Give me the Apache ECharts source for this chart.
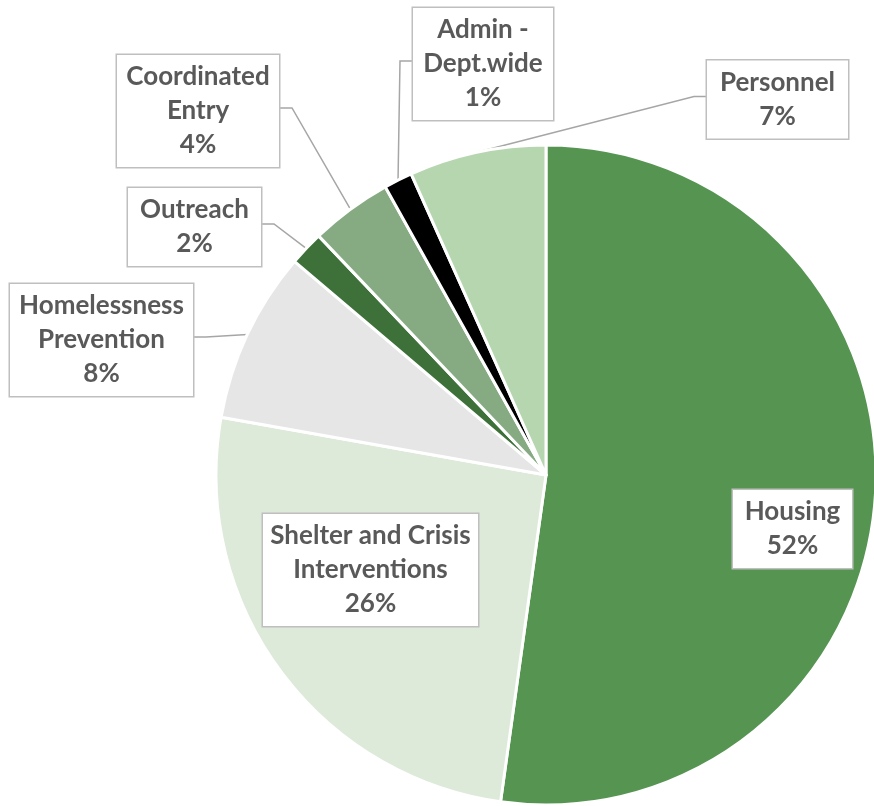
<!DOCTYPE html>
<html>
<head>
<meta charset="utf-8">
<script src="https://cdn.jsdelivr.net/npm/echarts@6/dist/echarts.min.js"></script>
<style>
html, body { margin: 0; padding: 0; background: #fff; }
#main { width: 874px; height: 806px; }
</style>
</head>
<body>
<div id="main"></div>
<script>
// budget share by program area (percent), clockwise from 12 o'clock
var categories = ['Housing', 'Shelter and Crisis\nInterventions', 'Homelessness\nPrevention', 'Outreach', 'Coordinated\nEntry', 'Admin -\nDept.wide', 'Personnel']
var values = [52.2, 25.6, 8.4, 1.7, 4.0, 1.4, 6.7]

var colors = ['#559551', '#dde9d9', '#e6e6e6', '#3e703a', '#86ab83', '#000000', '#b6d6b0']
// label boxes: centre x, centre y, box width
var labelBoxes = [[792.5, 529, 119], [370.5, 570, 215], [101.5, 340, 183], [194.5, 227, 133], [198, 111, 162], [483, 64, 140], [777.5, 99.5, 141]]
var insideLabel = [true, true, false, false, false, false, false]

var myChart = echarts.init(document.getElementById('main'))

var pieData = []
for (var i = 0; i < categories.length; i++) {
    pieData.push({
        name: categories[i],
        value: values[i],
        itemStyle: { color: colors[i] },
        label: {
            position: insideLabel[i] ? 'inside' : 'outside',
            width: labelBoxes[i][2]
        }
    })
}

var option = {
    animation: false,
    backgroundColor: '#fff',
    series: [{
        type: 'pie',
        center: [546, 475],
        radius: 330,
        startAngle: 90,
        clockwise: true,
        avoidLabelOverlap: false,
        percentPrecision: 0,
        emphasis: { disabled: true },
        itemStyle: {
            borderColor: '#fff',
            borderWidth: 3
        },
        label: {
            show: true,
            formatter: '{b}\n{d}%',
            fontFamily: 'Lato',
            fontWeight: 'bold',
            fontSize: 26,
            lineHeight: 34,
            color: '#595959',
            backgroundColor: '#fff',
            borderColor: '#bfbfbf',
            borderWidth: 1.5,
            padding: [7, 0, 3, 0],
            overflow: 'none',
            align: 'center'
        },
        labelLine: {
            show: true,
            lineStyle: { color: '#a6a6a6', width: 1.5 }
        },
        labelLayout: function (p) {
            var b = labelBoxes[p.dataIndex]
            var res = { x: b[0], y: b[1], align: 'center', verticalAlign: 'middle' }
            var pts = p.labelLinePoints
            if (pts && pts.length) {
                // from slice edge, bend just outside the box, into the box side
                var a = pts[0]
                var side = a[0] < b[0] ? -1 : 1
                var ex = b[0] + side * b[2] / 2
                res.labelLinePoints = [a, [ex + side * 13, b[1] - 3], [ex, b[1] - 3]]
            }
            return res
        },
        data: pieData
    }]
}

myChart.setOption(option)
</script>
</body>
</html>
